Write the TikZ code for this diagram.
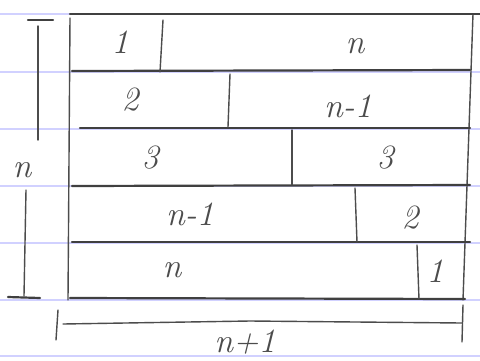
\documentclass[tikz,border=0pt]{standalone}
\begin{document}
\begin{tikzpicture}[x=1pt,y=-1pt,
  paper/.style={draw=blue!18!white,line width=1.4pt},
  pen/.style={draw=black!75,line width=2.2pt,line cap=round},
  thin/.style={draw=black!70,line width=1.4pt,line cap=round},
  lbl/.style={text=black!70,font=\fontsize{34}{36}\selectfont\itshape,inner sep=0pt}]
\useasboundingbox (0,0) rectangle (480,360);
\fill[white] (0,0) rectangle (480,360);
% ruled paper lines
\foreach \y in {14,72,129,186,243,300,356}
  \draw[paper] (0,\y) -- (480,\y);
% outer frame
\draw[thin] (70,18) -- (68,300);
\draw[thin] (473,14) -- (463,300);
\draw[pen] (70,14) -- (480,14);
\draw[pen] (72,71) -- (470,70);
\draw[pen] (80,128) -- (470,128);
\draw[pen] (72,186) -- (470,185);
\draw[pen] (72,242) -- (470,242);
\draw[pen] (70,298) -- (465,299);
% row dividers
\draw[thin] (163,20) -- (160,72);
\draw[thin] (230,74) -- (228,127);
\draw[thin] (292,130) -- (292,185);
\draw[thin] (355,188) -- (357,242);
\draw[thin] (417,245) -- (419,299);
% labels
\node[lbl] (a1) at (120,42) {1};
\node[lbl] (b1) at (355,46) {n};
\node[lbl] (a2) at (130,100) {2};
\node[lbl] (b2) at (348,106) {n-1};
\node[lbl] (a3) at (150,158) {3};
\node[lbl] (b3) at (385,158) {3};
\node[lbl] (a4) at (190,214) {n-1};
\node[lbl] (b4) at (410,218) {2};
\node[lbl] (a5) at (172,270) {n};
\node[lbl] (b5) at (435,271) {1};
% left measure
\draw[pen] (28,20) -- (53,20);
\draw[thin] (38,26) -- (38,140);
\node[lbl] (ln) at (22,170) {n};
\draw[thin] (26,190) -- (24,296);
\draw[pen] (8,297) -- (40,298);
% bottom measure
\draw[thin] (58,310) -- (56,340);
\draw[thin] (63,324) -- (250,321) -- (462,323);
\draw[thin] (463,305) -- (462,342);
\node[lbl] (bn) at (245,342) {n+1};
\end{tikzpicture}
\end{document}
